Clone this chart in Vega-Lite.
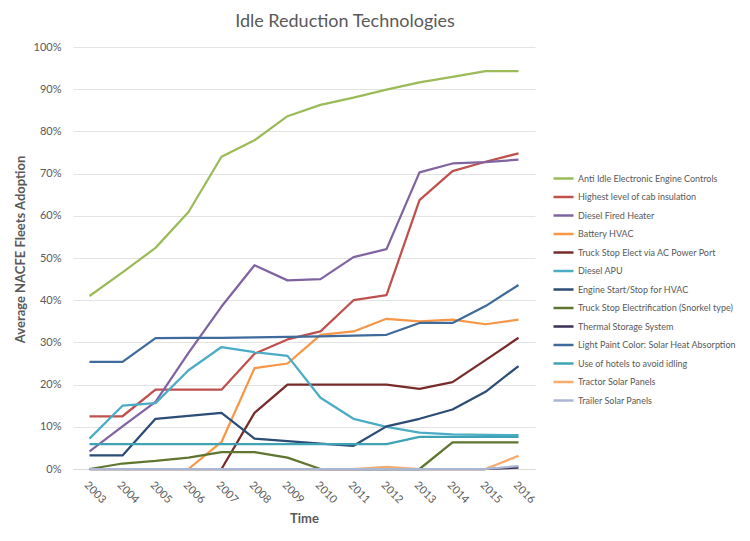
{
  "$schema": "https://vega.github.io/schema/vega-lite/v6.json",
  "width": 462,
  "height": 422,
  "autosize": {"type": "none"},
  "padding": {"left": 73, "top": 47, "right": 215, "bottom": 72},
  "background": "white",
  "title": {
    "text": "Idle Reduction Technologies",
    "fontSize": 18,
    "fontWeight": "normal",
    "color": "#595959",
    "anchor": "middle",
    "dx": 41,
    "offset": 10
  },
  "data": {
    "values": [
      {"year": "2003", "tech": "Anti Idle Electronic Engine Controls", "share": 0.41},
      {"year": "2004", "tech": "Anti Idle Electronic Engine Controls", "share": 0.466},
      {"year": "2005", "tech": "Anti Idle Electronic Engine Controls", "share": 0.524},
      {"year": "2006", "tech": "Anti Idle Electronic Engine Controls", "share": 0.609},
      {"year": "2007", "tech": "Anti Idle Electronic Engine Controls", "share": 0.74},
      {"year": "2008", "tech": "Anti Idle Electronic Engine Controls", "share": 0.779},
      {"year": "2009", "tech": "Anti Idle Electronic Engine Controls", "share": 0.836},
      {"year": "2010", "tech": "Anti Idle Electronic Engine Controls", "share": 0.863},
      {"year": "2011", "tech": "Anti Idle Electronic Engine Controls", "share": 0.88},
      {"year": "2012", "tech": "Anti Idle Electronic Engine Controls", "share": 0.899},
      {"year": "2013", "tech": "Anti Idle Electronic Engine Controls", "share": 0.916},
      {"year": "2014", "tech": "Anti Idle Electronic Engine Controls", "share": 0.929},
      {"year": "2015", "tech": "Anti Idle Electronic Engine Controls", "share": 0.943},
      {"year": "2016", "tech": "Anti Idle Electronic Engine Controls", "share": 0.943},

      {"year": "2003", "tech": "Highest level of cab insulation", "share": 0.125},
      {"year": "2004", "tech": "Highest level of cab insulation", "share": 0.125},
      {"year": "2005", "tech": "Highest level of cab insulation", "share": 0.188},
      {"year": "2006", "tech": "Highest level of cab insulation", "share": 0.188},
      {"year": "2007", "tech": "Highest level of cab insulation", "share": 0.188},
      {"year": "2008", "tech": "Highest level of cab insulation", "share": 0.273},
      {"year": "2009", "tech": "Highest level of cab insulation", "share": 0.307},
      {"year": "2010", "tech": "Highest level of cab insulation", "share": 0.326},
      {"year": "2011", "tech": "Highest level of cab insulation", "share": 0.4},
      {"year": "2012", "tech": "Highest level of cab insulation", "share": 0.412},
      {"year": "2013", "tech": "Highest level of cab insulation", "share": 0.637},
      {"year": "2014", "tech": "Highest level of cab insulation", "share": 0.706},
      {"year": "2015", "tech": "Highest level of cab insulation", "share": 0.728},
      {"year": "2016", "tech": "Highest level of cab insulation", "share": 0.748},

      {"year": "2003", "tech": "Diesel Fired Heater", "share": 0.042},
      {"year": "2004", "tech": "Diesel Fired Heater", "share": 0.101},
      {"year": "2005", "tech": "Diesel Fired Heater", "share": 0.159},
      {"year": "2006", "tech": "Diesel Fired Heater", "share": 0.275},
      {"year": "2007", "tech": "Diesel Fired Heater", "share": 0.385},
      {"year": "2008", "tech": "Diesel Fired Heater", "share": 0.483},
      {"year": "2009", "tech": "Diesel Fired Heater", "share": 0.447},
      {"year": "2010", "tech": "Diesel Fired Heater", "share": 0.45},
      {"year": "2011", "tech": "Diesel Fired Heater", "share": 0.502},
      {"year": "2012", "tech": "Diesel Fired Heater", "share": 0.521},
      {"year": "2013", "tech": "Diesel Fired Heater", "share": 0.703},
      {"year": "2014", "tech": "Diesel Fired Heater", "share": 0.724},
      {"year": "2015", "tech": "Diesel Fired Heater", "share": 0.727},
      {"year": "2016", "tech": "Diesel Fired Heater", "share": 0.733},

      {"year": "2006", "tech": "Battery HVAC", "share": 0},
      {"year": "2007", "tech": "Battery HVAC", "share": 0.064},
      {"year": "2008", "tech": "Battery HVAC", "share": 0.239},
      {"year": "2009", "tech": "Battery HVAC", "share": 0.25},
      {"year": "2010", "tech": "Battery HVAC", "share": 0.318},
      {"year": "2011", "tech": "Battery HVAC", "share": 0.326},
      {"year": "2012", "tech": "Battery HVAC", "share": 0.356},
      {"year": "2013", "tech": "Battery HVAC", "share": 0.35},
      {"year": "2014", "tech": "Battery HVAC", "share": 0.354},
      {"year": "2015", "tech": "Battery HVAC", "share": 0.343},
      {"year": "2016", "tech": "Battery HVAC", "share": 0.354},

      {"year": "2007", "tech": "Truck Stop Elect via AC Power Port", "share": 0},
      {"year": "2008", "tech": "Truck Stop Elect via AC Power Port", "share": 0.133},
      {"year": "2009", "tech": "Truck Stop Elect via AC Power Port", "share": 0.2},
      {"year": "2010", "tech": "Truck Stop Elect via AC Power Port", "share": 0.2},
      {"year": "2011", "tech": "Truck Stop Elect via AC Power Port", "share": 0.2},
      {"year": "2012", "tech": "Truck Stop Elect via AC Power Port", "share": 0.2},
      {"year": "2013", "tech": "Truck Stop Elect via AC Power Port", "share": 0.19},
      {"year": "2014", "tech": "Truck Stop Elect via AC Power Port", "share": 0.206},
      {"year": "2015", "tech": "Truck Stop Elect via AC Power Port", "share": 0.258},
      {"year": "2016", "tech": "Truck Stop Elect via AC Power Port", "share": 0.311},

      {"year": "2003", "tech": "Diesel APU", "share": 0.072},
      {"year": "2004", "tech": "Diesel APU", "share": 0.15},
      {"year": "2005", "tech": "Diesel APU", "share": 0.156},
      {"year": "2006", "tech": "Diesel APU", "share": 0.234},
      {"year": "2007", "tech": "Diesel APU", "share": 0.289},
      {"year": "2008", "tech": "Diesel APU", "share": 0.277},
      {"year": "2009", "tech": "Diesel APU", "share": 0.268},
      {"year": "2010", "tech": "Diesel APU", "share": 0.169},
      {"year": "2011", "tech": "Diesel APU", "share": 0.119},
      {"year": "2012", "tech": "Diesel APU", "share": 0.1},
      {"year": "2013", "tech": "Diesel APU", "share": 0.086},
      {"year": "2014", "tech": "Diesel APU", "share": 0.082},
      {"year": "2015", "tech": "Diesel APU", "share": 0.081},
      {"year": "2016", "tech": "Diesel APU", "share": 0.08},

      {"year": "2003", "tech": "Engine Start/Stop for HVAC", "share": 0.032},
      {"year": "2004", "tech": "Engine Start/Stop for HVAC", "share": 0.032},
      {"year": "2005", "tech": "Engine Start/Stop for HVAC", "share": 0.119},
      {"year": "2006", "tech": "Engine Start/Stop for HVAC", "share": 0.126},
      {"year": "2007", "tech": "Engine Start/Stop for HVAC", "share": 0.133},
      {"year": "2008", "tech": "Engine Start/Stop for HVAC", "share": 0.072},
      {"year": "2009", "tech": "Engine Start/Stop for HVAC", "share": 0.066},
      {"year": "2010", "tech": "Engine Start/Stop for HVAC", "share": 0.06},
      {"year": "2011", "tech": "Engine Start/Stop for HVAC", "share": 0.055},
      {"year": "2012", "tech": "Engine Start/Stop for HVAC", "share": 0.101},
      {"year": "2013", "tech": "Engine Start/Stop for HVAC", "share": 0.119},
      {"year": "2014", "tech": "Engine Start/Stop for HVAC", "share": 0.141},
      {"year": "2015", "tech": "Engine Start/Stop for HVAC", "share": 0.183},
      {"year": "2016", "tech": "Engine Start/Stop for HVAC", "share": 0.244},

      {"year": "2003", "tech": "Truck Stop Electrification (Snorkel type)", "share": 0},
      {"year": "2004", "tech": "Truck Stop Electrification (Snorkel type)", "share": 0.013},
      {"year": "2005", "tech": "Truck Stop Electrification (Snorkel type)", "share": 0.019},
      {"year": "2006", "tech": "Truck Stop Electrification (Snorkel type)", "share": 0.027},
      {"year": "2007", "tech": "Truck Stop Electrification (Snorkel type)", "share": 0.04},
      {"year": "2008", "tech": "Truck Stop Electrification (Snorkel type)", "share": 0.04},
      {"year": "2009", "tech": "Truck Stop Electrification (Snorkel type)", "share": 0.027},
      {"year": "2010", "tech": "Truck Stop Electrification (Snorkel type)", "share": 0},
      {"year": "2011", "tech": "Truck Stop Electrification (Snorkel type)", "share": 0},
      {"year": "2012", "tech": "Truck Stop Electrification (Snorkel type)", "share": 0},
      {"year": "2013", "tech": "Truck Stop Electrification (Snorkel type)", "share": 0},
      {"year": "2014", "tech": "Truck Stop Electrification (Snorkel type)", "share": 0.063},
      {"year": "2015", "tech": "Truck Stop Electrification (Snorkel type)", "share": 0.063},
      {"year": "2016", "tech": "Truck Stop Electrification (Snorkel type)", "share": 0.063},

      {"year": "2003", "tech": "Thermal Storage System", "share": 0},
      {"year": "2004", "tech": "Thermal Storage System", "share": 0},
      {"year": "2005", "tech": "Thermal Storage System", "share": 0},
      {"year": "2006", "tech": "Thermal Storage System", "share": 0},
      {"year": "2007", "tech": "Thermal Storage System", "share": 0},
      {"year": "2008", "tech": "Thermal Storage System", "share": 0},
      {"year": "2009", "tech": "Thermal Storage System", "share": 0},
      {"year": "2010", "tech": "Thermal Storage System", "share": 0},
      {"year": "2011", "tech": "Thermal Storage System", "share": 0},
      {"year": "2012", "tech": "Thermal Storage System", "share": 0},
      {"year": "2013", "tech": "Thermal Storage System", "share": 0},
      {"year": "2014", "tech": "Thermal Storage System", "share": 0},
      {"year": "2015", "tech": "Thermal Storage System", "share": 0},
      {"year": "2016", "tech": "Thermal Storage System", "share": 0.003},

      {"year": "2003", "tech": "Light Paint Color: Solar Heat Absorption", "share": 0.254},
      {"year": "2004", "tech": "Light Paint Color: Solar Heat Absorption", "share": 0.254},
      {"year": "2005", "tech": "Light Paint Color: Solar Heat Absorption", "share": 0.31},
      {"year": "2006", "tech": "Light Paint Color: Solar Heat Absorption", "share": 0.311},
      {"year": "2007", "tech": "Light Paint Color: Solar Heat Absorption", "share": 0.311},
      {"year": "2008", "tech": "Light Paint Color: Solar Heat Absorption", "share": 0.312},
      {"year": "2009", "tech": "Light Paint Color: Solar Heat Absorption", "share": 0.313},
      {"year": "2010", "tech": "Light Paint Color: Solar Heat Absorption", "share": 0.314},
      {"year": "2011", "tech": "Light Paint Color: Solar Heat Absorption", "share": 0.316},
      {"year": "2012", "tech": "Light Paint Color: Solar Heat Absorption", "share": 0.318},
      {"year": "2013", "tech": "Light Paint Color: Solar Heat Absorption", "share": 0.346},
      {"year": "2014", "tech": "Light Paint Color: Solar Heat Absorption", "share": 0.346},
      {"year": "2015", "tech": "Light Paint Color: Solar Heat Absorption", "share": 0.386},
      {"year": "2016", "tech": "Light Paint Color: Solar Heat Absorption", "share": 0.436},

      {"year": "2003", "tech": "Use of hotels to avoid idling", "share": 0.059},
      {"year": "2004", "tech": "Use of hotels to avoid idling", "share": 0.059},
      {"year": "2005", "tech": "Use of hotels to avoid idling", "share": 0.059},
      {"year": "2006", "tech": "Use of hotels to avoid idling", "share": 0.059},
      {"year": "2007", "tech": "Use of hotels to avoid idling", "share": 0.059},
      {"year": "2008", "tech": "Use of hotels to avoid idling", "share": 0.059},
      {"year": "2009", "tech": "Use of hotels to avoid idling", "share": 0.059},
      {"year": "2010", "tech": "Use of hotels to avoid idling", "share": 0.059},
      {"year": "2011", "tech": "Use of hotels to avoid idling", "share": 0.059},
      {"year": "2012", "tech": "Use of hotels to avoid idling", "share": 0.059},
      {"year": "2013", "tech": "Use of hotels to avoid idling", "share": 0.076},
      {"year": "2014", "tech": "Use of hotels to avoid idling", "share": 0.076},
      {"year": "2015", "tech": "Use of hotels to avoid idling", "share": 0.076},
      {"year": "2016", "tech": "Use of hotels to avoid idling", "share": 0.076},

      {"year": "2003", "tech": "Tractor Solar Panels", "share": 0},
      {"year": "2004", "tech": "Tractor Solar Panels", "share": 0},
      {"year": "2005", "tech": "Tractor Solar Panels", "share": 0},
      {"year": "2006", "tech": "Tractor Solar Panels", "share": 0},
      {"year": "2007", "tech": "Tractor Solar Panels", "share": 0},
      {"year": "2008", "tech": "Tractor Solar Panels", "share": 0},
      {"year": "2009", "tech": "Tractor Solar Panels", "share": 0},
      {"year": "2010", "tech": "Tractor Solar Panels", "share": 0},
      {"year": "2011", "tech": "Tractor Solar Panels", "share": 0},
      {"year": "2012", "tech": "Tractor Solar Panels", "share": 0.005},
      {"year": "2013", "tech": "Tractor Solar Panels", "share": 0},
      {"year": "2014", "tech": "Tractor Solar Panels", "share": 0},
      {"year": "2015", "tech": "Tractor Solar Panels", "share": 0},
      {"year": "2016", "tech": "Tractor Solar Panels", "share": 0.031},

      {"year": "2003", "tech": "Trailer Solar Panels", "share": 0},
      {"year": "2004", "tech": "Trailer Solar Panels", "share": 0},
      {"year": "2005", "tech": "Trailer Solar Panels", "share": 0},
      {"year": "2006", "tech": "Trailer Solar Panels", "share": 0},
      {"year": "2007", "tech": "Trailer Solar Panels", "share": 0},
      {"year": "2008", "tech": "Trailer Solar Panels", "share": 0},
      {"year": "2009", "tech": "Trailer Solar Panels", "share": 0},
      {"year": "2010", "tech": "Trailer Solar Panels", "share": 0},
      {"year": "2011", "tech": "Trailer Solar Panels", "share": 0},
      {"year": "2012", "tech": "Trailer Solar Panels", "share": 0},
      {"year": "2013", "tech": "Trailer Solar Panels", "share": 0},
      {"year": "2014", "tech": "Trailer Solar Panels", "share": 0},
      {"year": "2015", "tech": "Trailer Solar Panels", "share": 0},
      {"year": "2016", "tech": "Trailer Solar Panels", "share": 0.007}
    ]
  },
  "mark": {"type": "line", "strokeWidth": 2.25, "strokeJoin": "round"},
  "encoding": {
    "x": {
      "field": "year",
      "type": "ordinal",
      "scale": {"type": "point", "padding": 0.5},
      "axis": {
        "title": "Time",
        "titleFontSize": 13,
        "titleFontWeight": "bold",
        "titleColor": "#595959",
        "titlePadding": 8,
        "labelAngle": 45,
        "labelAlign": "left",
        "labelBaseline": "top",
        "labelPadding": 10,
        "labelFontSize": 11,
        "labelColor": "#595959",
        "ticks": false,
        "domain": true,
        "domainColor": "#D9D9D9",
        "grid": false
      }
    },
    "y": {
      "field": "share",
      "type": "quantitative",
      "scale": {"domain": [0, 1]},
      "axis": {
        "title": "Average NACFE Fleets Adoption",
        "titleFontSize": 13,
        "titleFontWeight": "bold",
        "titleColor": "#595959",
        "titlePadding": 6,
        "titleY": 202,
        "values": [0, 0.1, 0.2, 0.3, 0.4, 0.5, 0.6, 0.7, 0.8, 0.9, 1],
        "format": ".0%",
        "labelFontSize": 11,
        "labelColor": "#595959",
        "labelPadding": 12,
        "ticks": false,
        "domain": false,
        "gridColor": "#E3E3E3"
      }
    },
    "color": {
      "field": "tech",
      "type": "nominal",
      "scale": {
        "domain": [
          "Anti Idle Electronic Engine Controls",
          "Highest level of cab insulation",
          "Diesel Fired Heater",
          "Battery HVAC",
          "Truck Stop Elect via AC Power Port",
          "Diesel APU",
          "Engine Start/Stop for HVAC",
          "Truck Stop Electrification (Snorkel type)",
          "Thermal Storage System",
          "Light Paint Color: Solar Heat Absorption",
          "Use of hotels to avoid idling",
          "Tractor Solar Panels",
          "Trailer Solar Panels"
        ],
        "range": [
          "#9BBB59", "#C0504D", "#8064A2", "#F79646", "#772C2A", "#4BACC6",
          "#2C4D75", "#5F7530", "#3A2F55", "#3F6B9C", "#3FA3B5", "#F9AB6B", "#A9B6D4"
        ]
      },
      "legend": {
        "title": null,
        "orient": "none",
        "legendX": 479,
        "legendY": 120,
        "symbolType": "stroke",
        "symbolStrokeWidth": 2.5,
        "symbolSize": 400,
        "rowPadding": 1.5,
        "labelOffset": 3,
        "labelFontSize": 9,
        "labelColor": "#595959",
        "labelLimit": 200
      }
    }
  },
  "config": {
    "font": "Lato",
    "view": {"stroke": null}
  }
}
